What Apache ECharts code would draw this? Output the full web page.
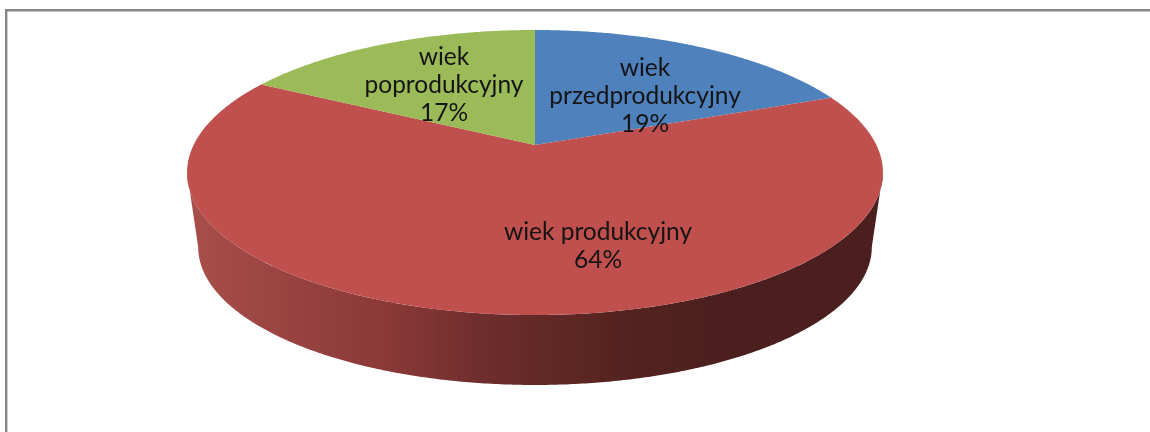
<!DOCTYPE html>
<html><head><meta charset="utf-8">
<style>html,body{margin:0;padding:0;background:#fff}#c{width:1150px;height:432px}</style>
<script src="https://cdn.jsdelivr.net/npm/echarts@6/dist/echarts.min.js"></script>
</head><body><div id="c"></div>
<script>
const categories = ['wiek przedprodukcyjny', 'wiek produkcyjny', 'wiek poprodukcyjny'];
const values = [19, 64, 17];
const labelLines = ['wiek\nprzedprodukcyjny\n19%', 'wiek produkcyjny\n64%', 'wiek\npoprodukcyjny\n17%'];
const colors = ['#4F81BD', '#C0504D', '#9BBB59'];

// layout of the perspective disc
const cx = 535, apexY = 145, k = 0.193, A = 341.4, B = 137.2;
const baseScale = 0.968, baseApexY = 220.4;
const labelPos = [[645, 96], [598, 246], [444, 85]];
const total = values.reduce((a, b) => a + b, 0);

function project(theta, scale, ay) {
  const u = Math.sin(theta), v = Math.cos(theta), w = 1 + k * v;
  return [cx + scale * A * u / w, ay - scale * B * v / w];
}
function arc(a0, a1, scale, ay) {
  const n = Math.max(2, Math.ceil(Math.abs(a1 - a0) / 0.008)), pts = [];
  for (let i = 0; i <= n; i++) pts.push(project(a0 + (a1 - a0) * i / n, scale, ay));
  return pts;
}
function sliceAngles(i) {
  let s = 0;
  for (let j = 0; j < i; j++) s += values[j];
  return [s / total * 2 * Math.PI, (s + values[i]) / total * 2 * Math.PI];
}
const sliceData = categories.map((name, i) => ({ name, value: values[i] }));

const option = {
  animation: false,
  backgroundColor: '#fff',
  graphic: [
    { type: 'rect', silent: true, z: 0, shape: { x: 6.2, y: 10.2, width: 1300, height: 600 },
      style: { fill: '#fff', stroke: '#868686', lineWidth: 2.4 } }
  ],
  series: [
    { // visible wall of the disc, under the biggest slice
      type: 'custom', coordinateSystem: 'none', z: 1, silent: true,
      data: [sliceData[1]],
      renderItem() {
        const tL = Math.acos(-k), tR = 2 * Math.PI - tL;
        const pts = arc(tL, tR, 1, apexY).concat(arc(tR, tL, baseScale, baseApexY));
        return {
          type: 'polygon', shape: { points: pts },
          style: {
            fill: {
              type: 'linear', global: true, x: 187, y: 0, x2: 883, y2: 0,
              colorStops: [
                { offset: 0, color: '#A94E4B' },
                { offset: 0.30, color: '#883836' },
                { offset: 0.42, color: '#6E2E2D' },
                { offset: 0.62, color: '#55231F' },
                { offset: 0.78, color: '#4A1F1E' },
                { offset: 1, color: '#4A1F1E' }
              ]
            }
          }
        };
      }
    },
    { // top face slices
      type: 'custom', coordinateSystem: 'none', z: 2, silent: true,
      data: sliceData,
      renderItem(params) {
        const i = params.dataIndex, [a0, a1] = sliceAngles(i);
        const pts = [[cx, apexY]].concat(arc(a0, a1, 1, apexY));
        return { type: 'polygon', shape: { points: pts }, style: { fill: colors[i] } };
      }
    },
    { // labels
      type: 'custom', coordinateSystem: 'none', z: 3, silent: true,
      data: sliceData,
      renderItem(params) {
        const i = params.dataIndex;
        return {
          type: 'text', z2: 10,
          style: {
            text: labelLines[i], x: labelPos[i][0], y: labelPos[i][1],
            align: 'center', verticalAlign: 'middle',
            font: '24.5px Lato', lineHeight: 28, fill: '#141414'
          }
        };
      }
    }
  ]
};
echarts.init(document.getElementById('c'), null, { renderer: 'canvas' }).setOption(option);
</script></body></html>
